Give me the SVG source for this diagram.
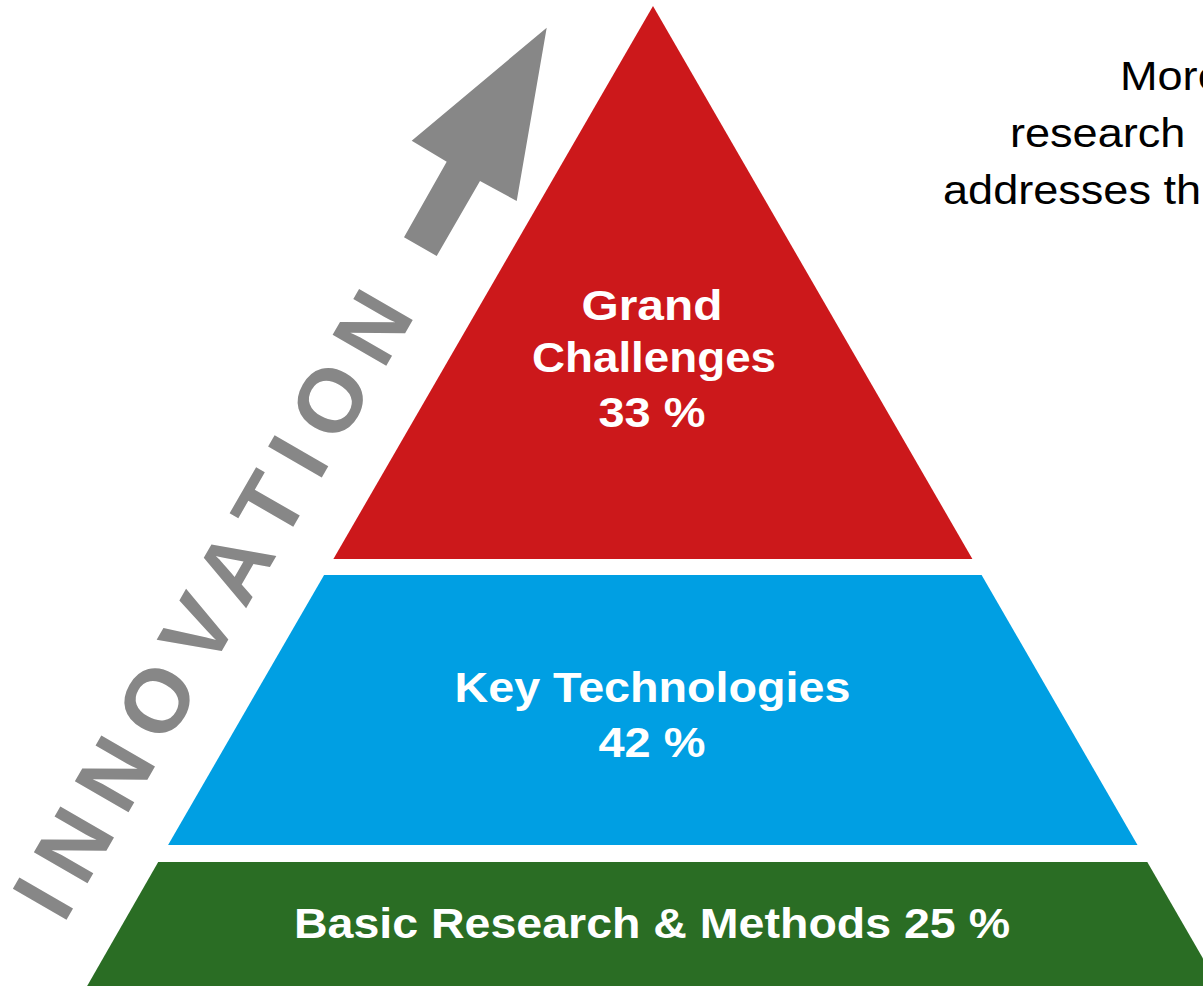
<svg xmlns="http://www.w3.org/2000/svg" width="1203" height="986" viewBox="0 0 1203 986">
  <style>
    .tier-label { font-family: "Liberation Sans", Arial, sans-serif; font-weight: bold; font-size: 43px; fill: #ffffff; text-anchor: middle; }
    .note { font-family: "Liberation Sans", Arial, sans-serif; font-size: 41px; fill: #000000; }
    .innovation { font-family: "Liberation Sans", Arial, sans-serif; font-weight: bold; font-size: 90px; letter-spacing: 17px; fill: #878787; }
  </style>
  <rect width="1203" height="986" fill="#ffffff"/>

  <!-- pyramid tiers -->
  <g id="tier-grand-challenges">
    <polygon points="653,6 972.4,559 333.4,559" fill="#cc181b"/>
    <text class="tier-label" x="652" y="320" textLength="141" lengthAdjust="spacingAndGlyphs">Grand</text>
    <text class="tier-label" x="654" y="372" textLength="244" lengthAdjust="spacingAndGlyphs">Challenges</text>
    <text class="tier-label" x="652" y="427" textLength="107" lengthAdjust="spacingAndGlyphs">33 %</text>
  </g>

  <g id="tier-key-technologies">
    <polygon points="324.1,575 981.6,575 1137.5,845 168.1,845" fill="#009fe3"/>
    <text class="tier-label" x="652.5" y="702" textLength="396" lengthAdjust="spacingAndGlyphs">Key Technologies</text>
    <text class="tier-label" x="652" y="757" textLength="107" lengthAdjust="spacingAndGlyphs">42 %</text>
  </g>

  <g id="tier-basic-research">
    <polygon points="158.2,862 1147.3,862 1220,988 86,988" fill="#2a6d24"/>
    <text class="tier-label" x="652" y="938" textLength="716" lengthAdjust="spacingAndGlyphs">Basic Research &amp; Methods 25 %</text>
  </g>

  <!-- innovation direction -->
  <g id="innovation-arrow">
    <polygon points="546.7,27.7 516.7,201 480,181 436.7,256 404,237.3 446.7,161.7 411.7,140.7" fill="#878787"/>
  </g>
  <g id="innovation-label">
    <text class="innovation" transform="translate(63.4 924.9) rotate(-60)">INNOVATION</text>
  </g>

  <!-- side note -->
  <g id="note">
    <text class="note" transform="matrix(1.1 0 0 1 1120 90)">More</text>
    <text class="note" transform="matrix(1.1 0 0 1 1010 147)">research</text>
    <text class="note" transform="matrix(1.1 0 0 1 943 204)">addresses th</text>
  </g>
</svg>
